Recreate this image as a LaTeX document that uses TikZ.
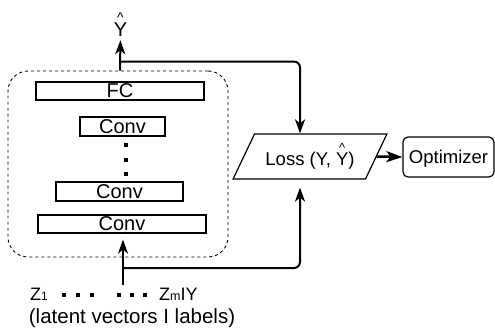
\documentclass[tikz,border=0pt]{standalone}
\usepackage{fontspec}
\setmainfont{Liberation Sans}
\usetikzlibrary{arrows.meta,shapes.geometric,calc}
\newcommand\fsz[1]{\fontsize{#1}{#1}\selectfont}
\newcommand\hatletter[3]{\vbox{\offinterlineskip\halign{\hfil##\hfil\cr{\fsz{#1}\textasciicircum}\cr\noalign{\kern#2}#3\cr}}}
\begin{document}
\begin{tikzpicture}[x=1pt,y=-1pt,
  box/.style={draw, line width=1.2pt, minimum height=18pt, inner sep=0pt, font=\fsz{20}},
  arr/.style={line width=2pt, -{Stealth[length=14pt,width=10pt,inset=4pt]}},
  txt/.style={inner sep=0pt},
  dot/.style={fill=black}
]
\useasboundingbox (0,0) rectangle (495,331);
% encoder (dashed)
\node[draw, line width=0.9pt, rounded corners=20pt, dash pattern=on 3pt off 3pt,
      minimum width=220pt, minimum height=186pt] (enc) at (118,164) {};
\node[box, minimum width=168pt] (fc) at (120,91) {FC};
\node[box, minimum width=85pt, minimum height=19pt] (c1) at (122.5,126.5) {Conv};
\node[box, minimum width=127pt, minimum height=19pt] (c2) at (119.5,191.5) {Conv};
\node[box, minimum width=168pt] (c3) at (122,224) {Conv};
\fill[dot] (124.2,143.2) rectangle +(3.6,3.6);
\fill[dot] (124.2,158.2) rectangle +(3.6,3.6);
\fill[dot] (124.2,172.2) rectangle +(3.6,3.6);
% output
\node[txt, anchor=base, font=\fsz{20}] (yhat) at (120.5,37) {\hatletter{14}{0.5pt}{Y}};
\draw[arr, shorten >=3pt] (fc.north |- enc.north) -- (yhat.south);
\coordinate (b1) at ($(fc.north |- enc.north)+(0,-9)$);
% loss
\node[draw, line width=1.2pt, trapezium, trapezium left angle=56, trapezium right angle=124,
      trapezium stretches=true, minimum width=154pt, minimum height=45pt, inner sep=0pt,
      font=\fsz{18.5}] (loss) at (310,156.5) {Loss (Y, \hatletter{13}{0pt}{Y})};
\node[draw, line width=1.2pt, rounded corners=5pt, minimum width=91pt, minimum height=40pt,
      inner sep=0pt, text depth=0pt, font=\fsz{18.5}] (opt) at (448.5,157) {Optimizer};
\draw[arr, rounded corners=6pt] (b1) -| ([xshift=-10pt]loss.north);
\draw[line width=2.5pt, -{Stealth[length=16pt,width=11pt,inset=4pt]}] (loss.east) -- (opt.west);
% input
\coordinate (in) at (123,285);
\draw[arr, shorten >=6pt] (in) -- (in |- c3.south);
\coordinate (b2) at (123,268);
\draw[arr, rounded corners=6pt, shorten >=8pt] (b2) -| ([xshift=-10pt]loss.south);
% input labels
\node[txt, anchor=base west, font=\fsz{18}] (z1) at (30,300) {Z{\fsz{12}1}};
\fill[dot] (62.2,293.2) rectangle +(3.6,3.6);
\fill[dot] (76.2,293.2) rectangle +(3.6,3.6);
\fill[dot] (90.2,293.2) rectangle +(3.6,3.6);
\fill[dot] (117.2,293.2) rectangle +(3.6,3.6);
\fill[dot] (130.2,293.2) rectangle +(3.6,3.6);
\fill[dot] (143.2,293.2) rectangle +(3.6,3.6);
\node[txt, anchor=base west, font=\fsz{18}] (zm) at (159,300) {Z{\fsz{12.5}m}IY};
\node[txt, font=\fsz{20.5}] (lbl) at (132,318) {(latent vectors I labels)};
\end{tikzpicture}
\end{document}
